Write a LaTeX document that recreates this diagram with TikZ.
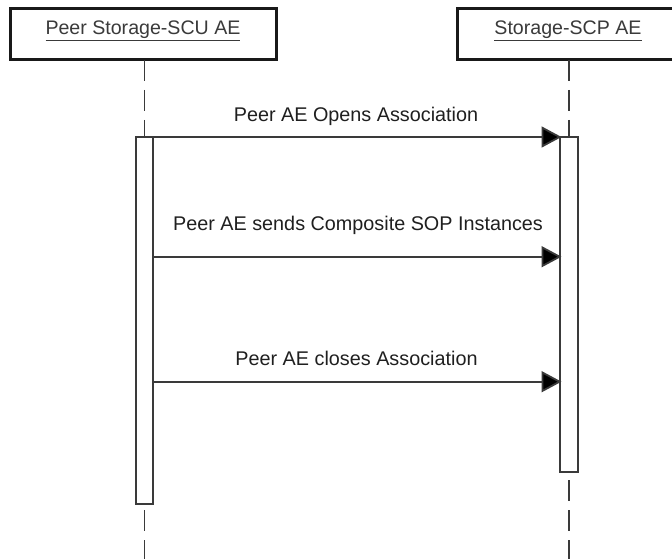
\documentclass[tikz,border=0pt]{standalone}
\usepackage{fontspec}
\setmainfont{Liberation Sans}
\usetikzlibrary{arrows.meta,calc}
\definecolor{ln}{HTML}{3A3A3A}
\begin{document}
\begin{tikzpicture}[x=1pt,y=-1pt,
  objbox/.style={draw=black!90, line width=3pt, fill=white, inner sep=0pt, outer sep=0pt},
  objlbl/.style={anchor=base, inner sep=0pt, text=ln, font=\fontsize{19.6}{23}\selectfont},
  lifeln/.style={draw=ln, line width=1.8pt, dash pattern=on 21pt off 9pt},
  actbox/.style={draw=ln, line width=1.8pt, fill=white, inner sep=0pt, outer sep=0pt},
  msg/.style={draw=ln, line width=1.8pt, -{Triangle[length=20pt,width=21pt,fill=black]}},
  msglbl/.style={anchor=base, inner sep=0pt, text=black!88, font=\fontsize{19.8}{23}\selectfont}]
\useasboundingbox (0,0) rectangle (672,559);
% object boxes
\node[objbox, minimum width=266pt, minimum height=51pt] (A) at (143,34.5) {};
\node[objbox, minimum width=224pt, minimum height=51pt] (B) at (569,34.5) {};
\node[objlbl] (Alabel) at (143,35) {\underline{Peer Storage-SCU AE}};
\node[objlbl] (Blabel) at (568,35) {\underline{Storage-SCP AE}};
% lifelines
\coordinate (Aend) at (144.5,560);
\coordinate (Bend) at (569,560);
\draw[lifeln] (A.south -| Aend) -- (Aend);
\draw[lifeln] (B.south -| Bend) -- (Bend);
% activations
\node[actbox, minimum width=17pt, minimum height=367pt] (actL) at (144.5,320.5) {};
\node[actbox, minimum width=18pt, minimum height=335pt] (actR) at (569,304.5) {};
% messages
\coordinate (y2) at (0,256.7);
\coordinate (y3) at (0,381.7);
\draw[msg] (actL.north west) -- ([xshift=1.5pt]actR.north west);
\draw[msg] (actL.east |- y2) -- ([xshift=1.5pt]actR.west |- y2);
\draw[msg] (actL.east |- y3) -- ([xshift=1.5pt]actR.west |- y3);
\node[msglbl] (m1) at (356,121.7) {Peer AE Opens Association};
\node[msglbl] (m2) at (358,230) {Peer AE sends Composite SOP Instances};
\node[msglbl] (m3) at (356.5,365) {Peer AE closes Association};
\end{tikzpicture}
\end{document}
